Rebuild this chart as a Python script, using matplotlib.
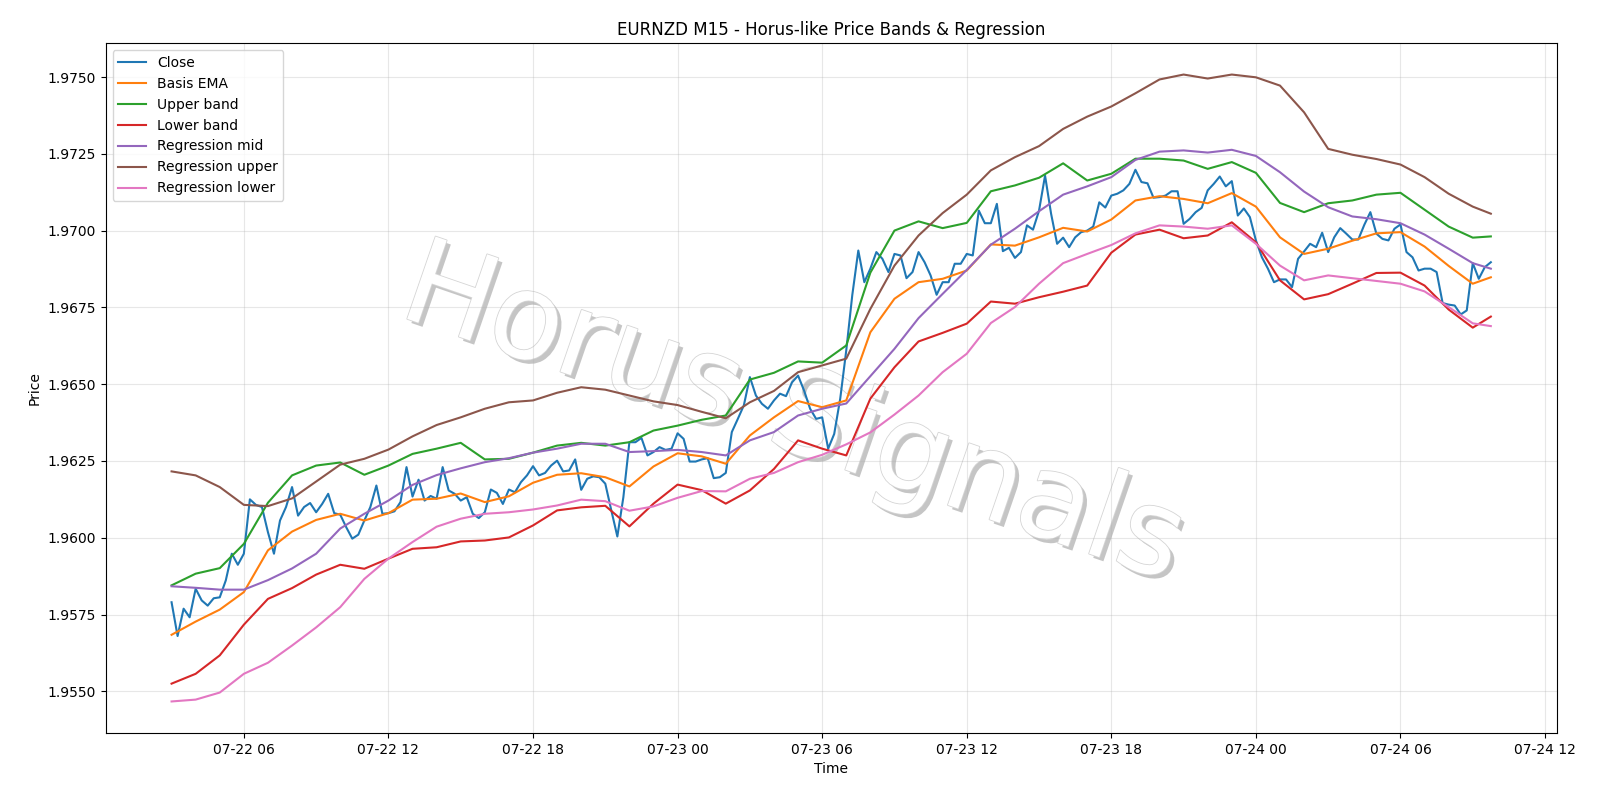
import numpy as np
import pandas as pd
import matplotlib
matplotlib.use('Agg')
import matplotlib.pyplot as plt
import matplotlib.dates as mdates
import matplotlib.patheffects as pe

# 15-minute closes, 07-22 03:00 -> 07-24 09:45
close = [
    1.95790, 1.95680, 1.95769, 1.95741, 1.95834, 1.95796, 1.95779, 1.95803, 1.95806, 1.95861,
    1.95948, 1.95912, 1.95948, 1.96125, 1.96107, 1.96100, 1.96018, 1.95948, 1.96056, 1.96100,
    1.96165, 1.96072, 1.96100, 1.96113, 1.96083, 1.96110, 1.96143, 1.96080, 1.96075, 1.96034,
    1.95997, 1.96010, 1.96056, 1.96100, 1.96170, 1.96078, 1.96080, 1.96086, 1.96116, 1.96230,
    1.96134, 1.96189, 1.96121, 1.96136, 1.96127, 1.96230, 1.96154, 1.96143, 1.96121, 1.96132,
    1.96078, 1.96064, 1.96083, 1.96157, 1.96146, 1.96110, 1.96157, 1.96148, 1.96181, 1.96203,
    1.96233, 1.96203, 1.96211, 1.96235, 1.96251, 1.96216, 1.96219, 1.96255, 1.96156, 1.96192,
    1.96200, 1.96197, 1.96176, 1.96089, 1.96004, 1.96132, 1.96311, 1.96311, 1.96325, 1.96268,
    1.96279, 1.96295, 1.96286, 1.96290, 1.96340, 1.96322, 1.96248, 1.96248, 1.96255, 1.96259,
    1.96194, 1.96197, 1.96211, 1.96344, 1.96387, 1.96431, 1.96523, 1.96463, 1.96436, 1.96420,
    1.96447, 1.96469, 1.96461, 1.96506, 1.96528, 1.96479, 1.96420, 1.96387, 1.96392, 1.96290,
    1.96338, 1.96453, 1.96610, 1.96790, 1.96935, 1.96832, 1.96876, 1.96930, 1.96908, 1.96865,
    1.96924, 1.96919, 1.96845, 1.96865, 1.96930, 1.96897, 1.96854, 1.96791, 1.96832, 1.96832,
    1.96892, 1.96892, 1.96924, 1.96919, 1.97065, 1.97024, 1.97024, 1.97087, 1.96933, 1.96944,
    1.96911, 1.96930, 1.97017, 1.97003, 1.97065, 1.97179, 1.97055, 1.96957, 1.96977, 1.96946,
    1.96978, 1.96995, 1.97000, 1.97013, 1.97092, 1.97075, 1.97114, 1.97120, 1.97131, 1.97152,
    1.97198, 1.97158, 1.97154, 1.97107, 1.97109, 1.97114, 1.97128, 1.97128, 1.97022, 1.97038,
    1.97060, 1.97074, 1.97131, 1.97152, 1.97176, 1.97144, 1.97161, 1.97049, 1.97072, 1.97044,
    1.96968, 1.96913, 1.96876, 1.96832, 1.96841, 1.96841, 1.96816, 1.96908, 1.96932, 1.96957,
    1.96946, 1.96993, 1.96930, 1.96978, 1.97008, 1.96990, 1.96971, 1.96971, 1.97019, 1.97060,
    1.96990, 1.96973, 1.96968, 1.97006, 1.97020, 1.96930, 1.96913, 1.96870, 1.96876, 1.96876,
    1.96865, 1.96764, 1.96759, 1.96756, 1.96727, 1.96740, 1.96894, 1.96843, 1.96881, 1.96897,
]

# smooth lines read hourly (03:00 ... 09:00 on 07-24) plus the last bar 09:45
basis_ema = [
    1.95684, 1.95727, 1.95766, 1.95823, 1.95959, 1.96020, 1.96058, 1.96078, 1.96056, 1.96080,
    1.96124, 1.96127, 1.96144, 1.96116, 1.96135, 1.96179, 1.96205, 1.96210, 1.96197, 1.96167,
    1.96232, 1.96275, 1.96265, 1.96241, 1.96333, 1.96392, 1.96445, 1.96425, 1.96447, 1.96669,
    1.96778, 1.96832, 1.96843, 1.96870, 1.96955, 1.96951, 1.96978, 1.97009, 1.96997, 1.97036,
    1.97098, 1.97112, 1.97103, 1.97089, 1.97122, 1.97078, 1.96978, 1.96924, 1.96941, 1.96967,
    1.96991, 1.96995, 1.96948, 1.96885, 1.96827, 1.96848,
]
upper_band = [
    1.95845, 1.95883, 1.95901, 1.95980, 1.96114, 1.96203, 1.96235, 1.96245, 1.96205, 1.96235,
    1.96273, 1.96290, 1.96309, 1.96255, 1.96257, 1.96277, 1.96300, 1.96309, 1.96300, 1.96311,
    1.96349, 1.96365, 1.96384, 1.96398, 1.96515, 1.96537, 1.96574, 1.96570, 1.96626, 1.96863,
    1.97000, 1.97030, 1.97008, 1.97025, 1.97128, 1.97147, 1.97172, 1.97219, 1.97163, 1.97185,
    1.97234, 1.97234, 1.97228, 1.97201, 1.97223, 1.97188, 1.97090, 1.97060, 1.97089, 1.97098,
    1.97117, 1.97123, 1.97068, 1.97013, 1.96977, 1.96981,
]
lower_band = [
    1.95525, 1.95557, 1.95617, 1.95717, 1.95801, 1.95836, 1.95880, 1.95912, 1.95899, 1.95932,
    1.95964, 1.95969, 1.95988, 1.95991, 1.96001, 1.96040, 1.96089, 1.96099, 1.96104, 1.96037,
    1.96111, 1.96173, 1.96155, 1.96111, 1.96154, 1.96224, 1.96317, 1.96290, 1.96268, 1.96453,
    1.96555, 1.96639, 1.96667, 1.96697, 1.96769, 1.96762, 1.96783, 1.96801, 1.96821, 1.96928,
    1.96987, 1.97003, 1.96975, 1.96984, 1.97027, 1.96962, 1.96838, 1.96776, 1.96793, 1.96827,
    1.96862, 1.96863, 1.96821, 1.96743, 1.96684, 1.96720,
]
reg_mid = [
    1.95842, 1.95837, 1.95831, 1.95831, 1.95862, 1.95900, 1.95948, 1.96030, 1.96078, 1.96121,
    1.96172, 1.96204, 1.96226, 1.96246, 1.96259, 1.96277, 1.96290, 1.96306, 1.96306, 1.96279,
    1.96282, 1.96286, 1.96279, 1.96268, 1.96317, 1.96344, 1.96398, 1.96420, 1.96437, 1.96526,
    1.96615, 1.96715, 1.96794, 1.96872, 1.96954, 1.97006, 1.97063, 1.97117, 1.97144, 1.97174,
    1.97230, 1.97257, 1.97261, 1.97254, 1.97263, 1.97243, 1.97190, 1.97127, 1.97076, 1.97046,
    1.97037, 1.97024, 1.96987, 1.96941, 1.96894, 1.96876,
]
reg_upper = [
    1.96216, 1.96203, 1.96165, 1.96107, 1.96103, 1.96128, 1.96183, 1.96238, 1.96257, 1.96287,
    1.96330, 1.96367, 1.96392, 1.96420, 1.96441, 1.96447, 1.96472, 1.96490, 1.96482, 1.96463,
    1.96444, 1.96432, 1.96410, 1.96389, 1.96441, 1.96478, 1.96539, 1.96561, 1.96583, 1.96745,
    1.96886, 1.96984, 1.97057, 1.97117, 1.97196, 1.97239, 1.97275, 1.97331, 1.97371, 1.97404,
    1.97447, 1.97492, 1.97508, 1.97495, 1.97508, 1.97499, 1.97472, 1.97385, 1.97266, 1.97247,
    1.97233, 1.97215, 1.97174, 1.97120, 1.97078, 1.97055,
]
reg_lower = [
    1.95467, 1.95473, 1.95496, 1.95557, 1.95593, 1.95649, 1.95708, 1.95774, 1.95866, 1.95932,
    1.95986, 1.96036, 1.96062, 1.96078, 1.96083, 1.96092, 1.96105, 1.96124, 1.96119, 1.96088,
    1.96102, 1.96130, 1.96152, 1.96151, 1.96192, 1.96211, 1.96246, 1.96270, 1.96304, 1.96343,
    1.96401, 1.96463, 1.96539, 1.96599, 1.96699, 1.96751, 1.96827, 1.96894, 1.96924, 1.96953,
    1.96991, 1.97017, 1.97013, 1.97006, 1.97017, 1.96957, 1.96886, 1.96838, 1.96854, 1.96845,
    1.96836, 1.96827, 1.96802, 1.96751, 1.96698, 1.96689,
]

t_close = pd.date_range('2025-07-22 03:00', periods=len(close), freq='15min')
t_smooth = list(pd.date_range('2025-07-22 03:00', periods=55, freq='h')) + [t_close[-1]]

fig, ax = plt.subplots(figsize=(16, 8), dpi=100)
ax.plot(t_close, close, label='Close', zorder=3)
ax.plot(t_smooth, basis_ema, label='Basis EMA', zorder=3)
ax.plot(t_smooth, upper_band, label='Upper band', zorder=3)
ax.plot(t_smooth, lower_band, label='Lower band', zorder=3)
ax.plot(t_smooth, reg_mid, label='Regression mid', zorder=3)
ax.plot(t_smooth, reg_upper, label='Regression upper', zorder=3)
ax.plot(t_smooth, reg_lower, label='Regression lower', zorder=3)

# watermark behind the lines: white letters with a grey drop shadow
ax.text(0.474, 0.458, 'Horus Signals', transform=ax.transAxes, fontsize=86,
        color='white', rotation=-19, ha='center', va='center', zorder=1,
        path_effects=[pe.SimplePatchShadow(offset=(3, -3), shadow_rgbFace='gray', alpha=0.45),
                      pe.Stroke(linewidth=1.2, foreground='#d5d5d5'),
                      pe.Normal()])

ax.xaxis.set_major_locator(mdates.HourLocator(byhour=[0, 6, 12, 18]))
ax.xaxis.set_major_formatter(mdates.DateFormatter('%m-%d %H'))
ax.set_title('EURNZD M15 - Horus-like Price Bands & Regression')
ax.set_xlabel('Time')
ax.set_ylabel('Price')
ax.grid(True, alpha=0.3)
ax.legend(loc='upper left')
plt.subplots_adjust(left=0.066, right=0.973, bottom=0.084, top=0.946)
plt.savefig('out.png')
